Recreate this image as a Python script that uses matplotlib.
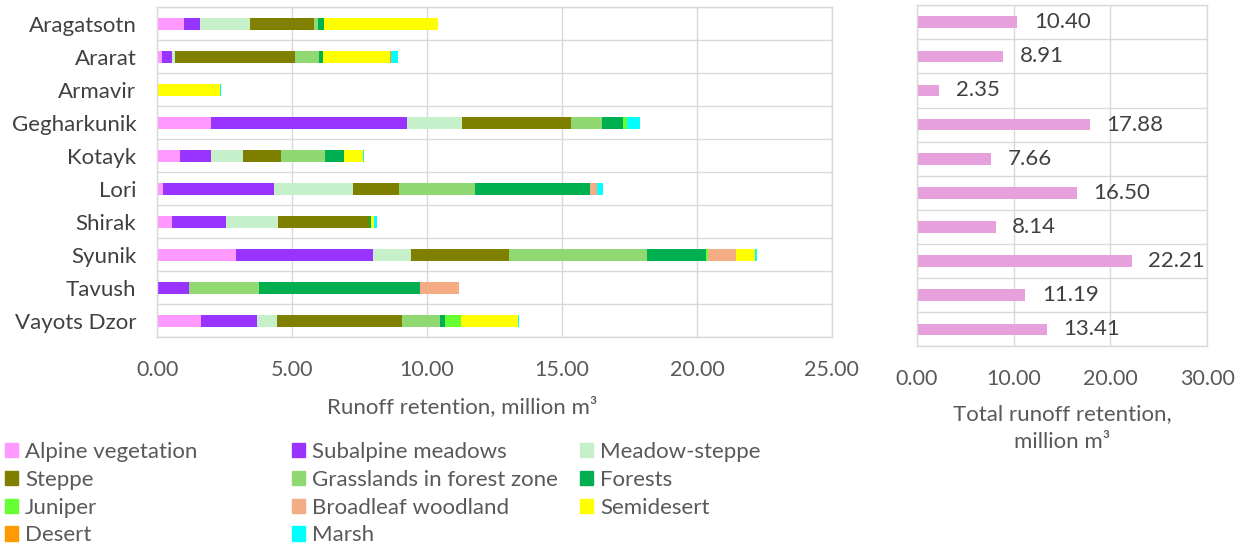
import numpy as np
import matplotlib.pyplot as plt
from matplotlib.patches import Patch
from matplotlib.ticker import FormatStrFormatter, MultipleLocator

# regions (top to bottom) and land cover classes
regions = ['Aragatsotn', 'Ararat', 'Armavir', 'Gegharkunik', 'Kotayk', 'Lori',
           'Shirak', 'Syunik', 'Tavush', 'Vayots Dzor']
classes = ['Alpine vegetation', 'Subalpine meadows', 'Meadow-steppe', 'Steppe',
           'Grasslands in forest zone', 'Forests', 'Juniper', 'Broadleaf woodland',
           'Semidesert', 'Desert', 'Marsh']
colors = ['#FF99FF', '#9933FF', '#C6F0C9', '#808000', '#90D872', '#00B050',
          '#66FF33', '#F4AC84', '#FFFF00', '#FF9900', '#00FFFF']

# runoff retention per class, million m3 (one list per class, regions in order above)
alpine = [1.00, 0.16, 0.00, 1.99, 0.86, 0.20, 0.54, 2.93, 0.00, 1.62]
subalpine = [0.57, 0.37, 0.00, 7.28, 1.12, 4.12, 2.00, 5.07, 1.17, 2.09]
meadow_steppe = [1.85, 0.12, 0.00, 2.02, 1.19, 2.93, 1.94, 1.40, 0.00, 0.72]
steppe = [2.39, 4.44, 0.00, 4.03, 1.41, 1.70, 3.38, 3.63, 0.00, 4.65]
grasslands = [0.15, 0.90, 0.00, 1.16, 1.64, 2.81, 0.00, 5.13, 2.60, 1.38]
forests = [0.22, 0.15, 0.00, 0.79, 0.70, 4.29, 0.06, 2.16, 5.95, 0.19]
juniper = [0.00, 0.00, 0.00, 0.14, 0.00, 0.00, 0.00, 0.09, 0.00, 0.59]
broadleaf = [0.00, 0.00, 0.00, 0.00, 0.00, 0.25, 0.00, 1.02, 1.47, 0.00]
semidesert = [4.22, 2.47, 2.32, 0.00, 0.71, 0.00, 0.11, 0.72, 0.00, 2.13]
desert = [0.00, 0.07, 0.00, 0.00, 0.00, 0.00, 0.00, 0.00, 0.00, 0.00]
marsh = [0.00, 0.23, 0.03, 0.47, 0.03, 0.20, 0.11, 0.06, 0.00, 0.04]

totals = [10.40, 8.91, 2.35, 17.88, 7.66, 16.50, 8.14, 22.21, 11.19, 13.41]

series = [alpine, subalpine, meadow_steppe, steppe, grasslands, forests,
          juniper, broadleaf, semidesert, desert, marsh]

plt.rcParams['font.family'] = ['Lato', 'DejaVu Sans']
grid_col = '#D9D9D9'
txt_col = '#595959'

fig = plt.figure(figsize=(12.45, 5.46), dpi=100)
ax = fig.add_axes([0.1263, 0.3819, 0.5419, 0.6044])
ax2 = fig.add_axes([0.7363, 0.3656, 0.2334, 0.6249])

y = np.arange(len(regions))

# stacked bars
left = np.zeros(len(regions))
for vals, col, lab in zip(series, colors, classes):
    ax.barh(y, vals, left=left, height=0.38, color=col, label=lab)
    left += np.array(vals)

# total bars
bars = ax2.barh(y, totals, height=0.34, color='#E6A0DC')
ax2.bar_label(bars, labels=['%.2f' % t for t in totals], padding=12,
              fontsize=16, color='#404040')

for a in (ax, ax2):
    a.set_ylim(len(regions) - 0.5, -0.5)
    a.set_yticks(y)
    a.set_yticks(np.arange(-0.5, len(regions)), minor=True)
    a.grid(True, axis='x', color=grid_col, lw=1.0)
    a.grid(True, axis='y', which='minor', color=grid_col, lw=1.0)
    a.set_axisbelow(True)
    a.tick_params(which='both', length=0)
    a.xaxis.set_major_formatter(FormatStrFormatter('%.2f'))
    for s in a.spines.values():
        s.set_color(grid_col)
        s.set_linewidth(1.0)

ax.set_xlim(0, 25)
ax.xaxis.set_major_locator(MultipleLocator(5))
ax.set_yticklabels(regions, fontsize=16, color='#404040')
ax.tick_params(axis='y', pad=15)
ax.tick_params(axis='x', pad=16, labelsize=15.5, labelcolor=txt_col)
ax.set_xlabel('Runoff retention, million m³', fontsize=16, color=txt_col)
ax.xaxis.set_label_coords(0.4516, -0.21)
ax.xaxis.label.set_va('center')

ax2.set_xlim(0, 30)
ax2.xaxis.set_major_locator(MultipleLocator(10))
ax2.set_yticklabels([])
ax2.tick_params(axis='x', pad=16, labelsize=15.5, labelcolor=txt_col)
ax2.set_xlabel('Total runoff retention,\nmillion m³', fontsize=16,
               color=txt_col, linespacing=1.45)
ax2.xaxis.set_label_coords(0.5, -0.17)
ax2.xaxis.label.set_va('top')

# legend, three columns filled row by row
handles = [Patch(color=c, label=l) for c, l in zip(colors, classes)]
col_x = [5, 292, 580]
for k in range(3):
    leg = fig.legend(handles=handles[k::3], loc='upper left',
                     bbox_to_anchor=(col_x[k] / 1245, 1 - 442 / 546),
                     frameon=False, fontsize=16, labelcolor=txt_col,
                     handlelength=0.6, handleheight=0.62, handletextpad=0.3,
                     labelspacing=0.35, borderpad=0, borderaxespad=0)

fig.savefig('out.png', dpi=100)
